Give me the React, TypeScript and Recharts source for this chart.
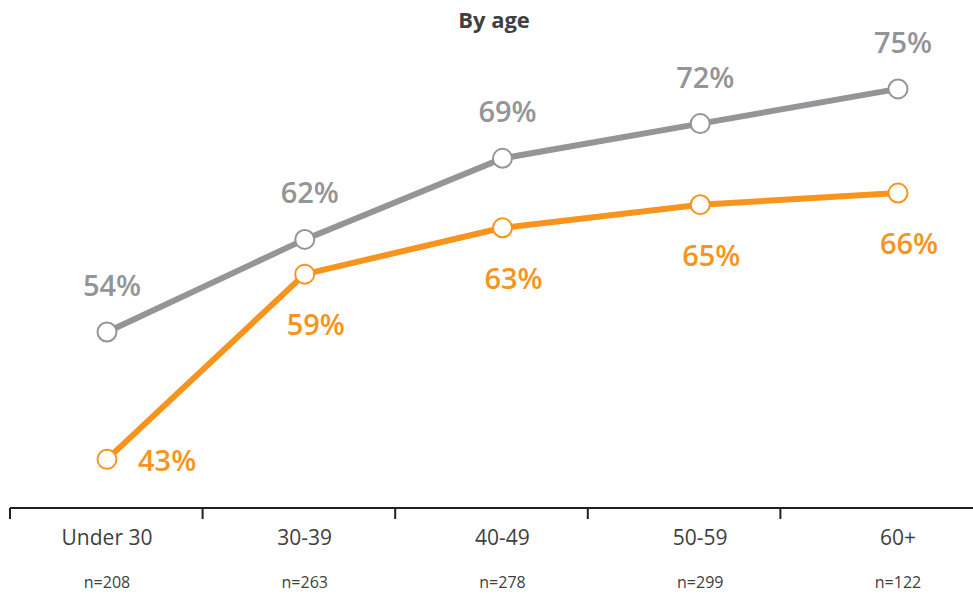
import { LineChart, Line, XAxis, YAxis, LabelList } from "recharts";

const categories = ["Under 30", "30-39", "40-49", "50-59", "60+"];
const sampleSizes = ["n=208", "n=263", "n=278", "n=299", "n=122"];
const grayValues = [54, 62, 69, 72, 75];
const orangeValues = [43, 59, 63, 65, 66];

const data = categories.map((c, i) => ({ cat: c, gray: grayValues[i], orange: orangeValues[i] }));

const GRAY = "#939598";
const ORANGE = "#F7941D";
const TEXT = "#404040";
const FONT = "'Open Sans', sans-serif";

const W = 973;
const H = 596;
const LEFT = 10;
const BAND = (W - LEFT) / categories.length;

function CategoryTick(props: any) {
  const { x, y, payload, index } = props;
  const edge = LEFT + index * BAND;
  return (
    <g>
      <line x1={edge} x2={edge} y1={y} y2={y + 11} stroke="#231f20" strokeWidth={2} />
      <text x={x} y={y + 37} textAnchor="middle" fontSize={21} fill={TEXT} fontFamily={FONT}>
        {payload.value}
      </text>
      <text x={x} y={y + 80} textAnchor="middle" fontSize={16} fill={TEXT} fontFamily={FONT}>
        {sampleSizes[index]}
      </text>
    </g>
  );
}

function GrayLabel(props: any) {
  const { x, y, value } = props;
  return (
    <text x={x + 5} y={y - 36} textAnchor="middle" fontSize={29} fontWeight={600} fill={GRAY} fontFamily={FONT}>
      {value}%
    </text>
  );
}

function OrangeLabel(props: any) {
  const { x, y, value, index } = props;
  if (index === 0) {
    return (
      <text x={x + 31} y={y + 12} textAnchor="start" fontSize={29} fontWeight={600} fill={ORANGE} fontFamily={FONT}>
        {value}%
      </text>
    );
  }
  return (
    <text x={x + 11} y={y + 61} textAnchor="middle" fontSize={29} fontWeight={600} fill={ORANGE} fontFamily={FONT}>
      {value}%
    </text>
  );
}

export default function App() {
  return (
    <div style={{ position: "absolute", left: 0, top: 0, width: W, height: H, background: "#fff" }}>
      <LineChart width={W} height={H} data={data} margin={{ top: 31, right: 0, bottom: 0, left: LEFT }}>
        <text x={494} y={28} textAnchor="middle" fontSize={22} fontWeight={700} fill={TEXT} fontFamily={FONT}>
          By age
        </text>
        <XAxis
          dataKey="cat"
          height={88}
          padding={{ left: 97, right: 75 }}
          tickSize={0}
          tickMargin={0}
          tickLine={false}
          axisLine={{ stroke: "#231f20", strokeWidth: 2 }}
          tick={<CategoryTick />}
          interval={0}
        />
        <YAxis hide domain={[38.8, 80]} allowDataOverflow />
        <Line
          dataKey="gray"
          stroke={GRAY}
          strokeWidth={6}
          dot={{ r: 9.5, fill: "#fff", stroke: GRAY, strokeWidth: 2 }}
          activeDot={false}
          isAnimationActive={false}
        >
          <LabelList dataKey="gray" content={<GrayLabel />} />
        </Line>
        <Line
          dataKey="orange"
          stroke={ORANGE}
          strokeWidth={6}
          dot={{ r: 9.5, fill: "#fff", stroke: ORANGE, strokeWidth: 2 }}
          activeDot={false}
          isAnimationActive={false}
        >
          <LabelList dataKey="orange" content={<OrangeLabel />} />
        </Line>
      </LineChart>
    </div>
  );
}
